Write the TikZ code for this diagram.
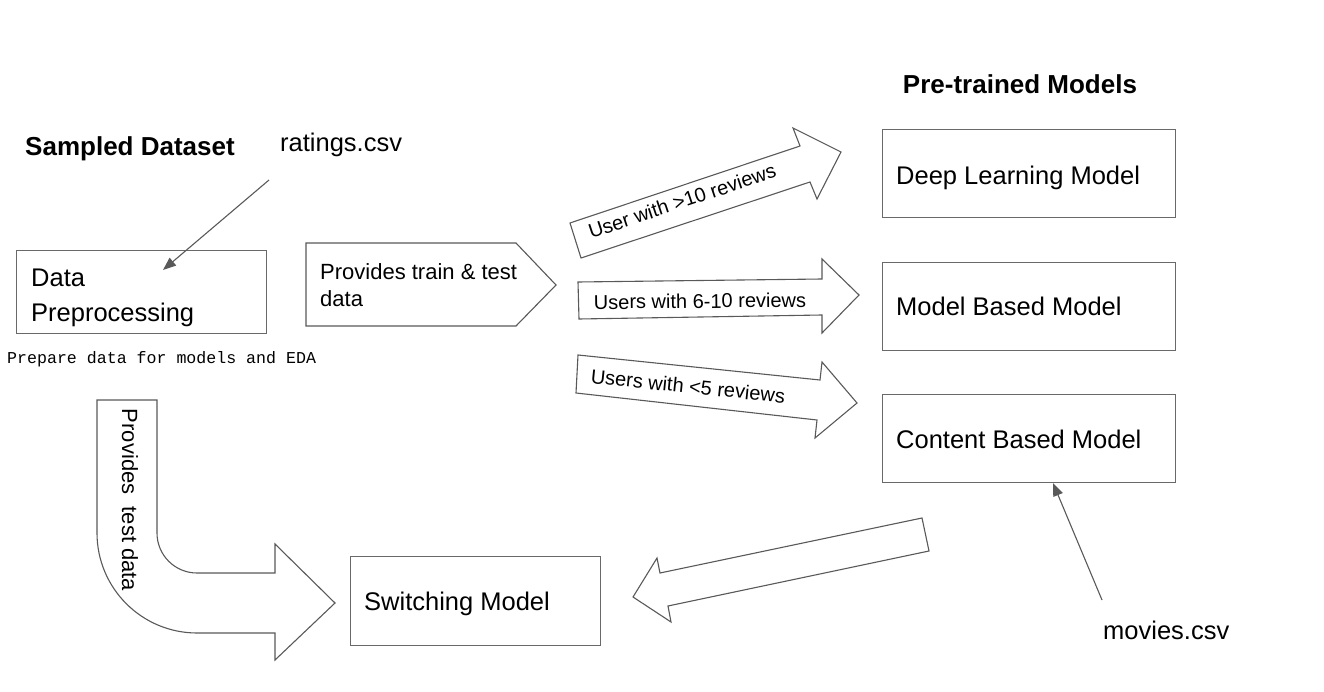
\documentclass[tikz,border=0pt]{standalone}
\usepackage{fontspec}
\setmainfont{Liberation Sans}
\setmonofont{Liberation Mono}
\usetikzlibrary{arrows.meta}
\definecolor{linegray}{RGB}{89,89,89}
\definecolor{boxgray}{RGB}{105,105,105}
\begin{document}
\begin{tikzpicture}[x=1pt,y=-1pt,
  box/.style={draw=boxgray, line width=1.2pt, inner sep=0pt},
  blockarrow/.style={draw=linegray, line width=1.1pt, line join=miter, fill=white},
  big/.style={font=\fontsize{25.5}{35}\selectfont, inner sep=0pt},
  bigbold/.style={font=\fontsize{26}{30}\selectfont\bfseries, inner sep=0pt},
  mid/.style={font=\fontsize{22}{26}\selectfont, inner sep=0pt},
  small/.style={font=\fontsize{20}{24}\selectfont, inner sep=0pt},
  mono/.style={font=\fontsize{16.6}{20}\selectfont\ttfamily, inner sep=0pt},
  ptr/.style={draw=linegray, line width=1.1pt, -{Triangle[length=13pt,width=10pt]}}
]
\useasboundingbox (0,0) rectangle (1324,692);

% headings
\node[bigbold, anchor=base] (sampled) at (130,156) {Sampled Dataset};
\node[bigbold, anchor=base] (pretrained) at (1020,94) {Pre-trained Models};
\node[big, anchor=base west] (ratings) at (280,152) {ratings.csv};
\node[big, anchor=base west] (movies) at (1103,639) {movies.csv};

% boxes
\node[box, anchor=north west, minimum width=250pt, minimum height=83pt] (prep) at (16,250) {};
\node[big, anchor=base west, align=left] (preptext) at (31,322) {Data\\Preprocessing};
\node[mono, anchor=base west] (prepnote) at (7,363) {Prepare data for models and EDA};

\node[box, anchor=north west, minimum width=293pt, minimum height=88pt] (dl) at (882,129) {};
\node[big, anchor=base west] (dltext) at (896,185) {Deep Learning Model};
\node[box, anchor=north west, minimum width=293pt, minimum height=88pt] (mb) at (882,262) {};
\node[big, anchor=base west] (mbtext) at (896,316) {Model Based Model};
\node[box, anchor=north west, minimum width=293pt, minimum height=88pt] (cb) at (882,394) {};
\node[big, anchor=base west] (cbtext) at (896,448) {Content Based Model};
\node[box, anchor=north west, minimum width=250pt, minimum height=89pt] (sw) at (350,556) {};
\node[big, anchor=base west] (swtext) at (364,610) {Switching Model};

% pentagon arrow
\draw[blockarrow] (306,243) -- (516,243) -- (556,285) -- (516,326) -- (306,326) -- cycle;
\node[mid, anchor=base west, align=left] (provtext) at (320,306) {Provides train \& test\\data};

% three block arrows
\draw[blockarrow] (570,223) -- (800,146) -- (793,128) -- (841,152) -- (817,199) -- (810,182) -- (581,258) -- cycle;
\node[small, rotate=18.5] (a1text) at (682,201) {User with >10 reviews};
\draw[blockarrow] (578,282) -- (822,279) -- (822,259) -- (859,295) -- (822,333) -- (822,315) -- (579,319) -- cycle;
\node[small, rotate=0.6] (a2text) at (700,301) {Users with 6-10 reviews};
\draw[blockarrow] (578,355) -- (820,380) -- (822,362) -- (857,403) -- (815,438) -- (817,420) -- (576,393) -- cycle;
\node[small, rotate=-5.9] (a3text) at (688,386) {Users with <5 reviews};

% curved arrow
\draw[blockarrow] (97,400) -- (157,400) -- (157,533)
  .. controls (157,555.1) and (174.9,573) .. (197,573)
  -- (275,573) -- (275,544) -- (335,603) -- (275,660) -- (275,633) -- (197,633)
  .. controls (141.8,633) and (97,588.2) .. (97,533) -- cycle;
\node[mid, rotate=-90] (curvtext) at (130,500) {Provides\ \ test data};

% back arrow
\draw[blockarrow] (922,518) -- (929,551) -- (668,606) -- (671,622) -- (633,597) -- (657,558) -- (660,573) -- cycle;

% pointers
\coordinate (rtail) at (269,180);
\coordinate (rhead) at (163,270);
\draw[ptr] (rtail) -- (rhead);
\coordinate (mtail) at (1102,600);
\coordinate (mhead) at (1053,483);
\draw[ptr] (mtail) -- (mhead);
\end{tikzpicture}
\end{document}
